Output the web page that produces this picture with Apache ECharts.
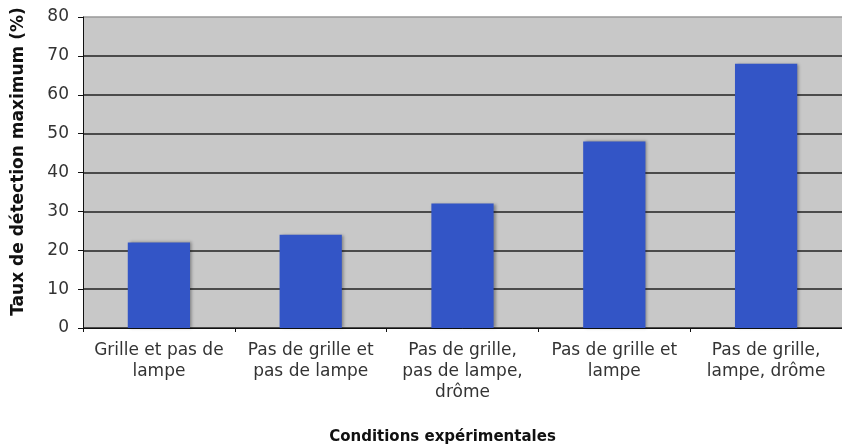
<!DOCTYPE html>
<html>
<head>
<meta charset="utf-8">
<script src="https://cdn.jsdelivr.net/npm/echarts@6/dist/echarts.min.js"></script>
<style>
  html, body { margin: 0; padding: 0; background: #fff; }
  #chart { width: 842px; height: 448px; }
</style>
</head>
<body>
<div id="chart"></div>
<script>
const categories = [
  'Grille et pas de\nlampe',
  'Pas de grille et\npas de lampe',
  'Pas de grille,\npas de lampe,\ndrôme',
  'Pas de grille et\nlampe',
  'Pas de grille,\nlampe, drôme'
]
const detectionRates = [22, 24, 32, 48, 68]
const yTicks = { min: 0, max: 80, interval: 10 }

const font = '"DejaVu Sans", Verdana, sans-serif'

const chart = echarts.init(document.getElementById('chart'))
chart.setOption({
  animation: false,
  grid: {
    left: 83, right: 0, top: 17, bottom: 120,
    outerBoundsMode: 'none',
    show: true,
    backgroundColor: '#c8c8c8',
    borderWidth: 0
  },
  xAxis: {
    type: 'category',
    data: categories,
    name: 'Conditions expérimentales',
    nameLocation: 'middle',
    nameGap: 102,
    // titre un peu décalé à gauche comme sur l'original
    nameTextStyle: { fontFamily: font, fontSize: 15, fontWeight: 'bold', color: '#111', padding: [0, 40, 0, 0] },
    axisLine: { lineStyle: { color: '#111', width: 1 } },
    axisTick: { show: true, alignWithLabel: false, length: 4, lineStyle: { color: '#111' } },
    axisLabel: {
      fontFamily: font, fontSize: 17, color: '#333',
      lineHeight: 21, margin: 12, interval: 0
    }
  },
  yAxis: {
    type: 'value',
    min: yTicks.min,
    max: yTicks.max,
    interval: yTicks.interval,
    name: 'Taux de détection maximum (%)',
    nameLocation: 'middle',
    nameGap: 56,
    nameTextStyle: { fontFamily: font, fontSize: 17, fontWeight: 'bold', color: '#111', padding: [0, 0, 0, 22] },
    axisLine: { show: true, lineStyle: { color: '#111', width: 1 } },
    axisTick: { show: true, length: 5, lineStyle: { color: '#111' } },
    axisLabel: { fontFamily: font, fontSize: 17, color: '#333', margin: 14 },
    splitLine: {
      lineStyle: {
        color: ['#222', '#222', '#222', '#222', '#222', '#222', '#222', '#222', '#999'],
        width: 1.5
      }
    }
  },
  series: [{
    type: 'bar',
    data: detectionRates,
    barWidth: '41%',
    itemStyle: {
      color: '#3355c6',
      shadowColor: 'rgba(0,0,0,0.35)',
      shadowBlur: 3,
      shadowOffsetX: 2,
      shadowOffsetY: 0
    }
  }]
})
</script>
</body>
</html>
